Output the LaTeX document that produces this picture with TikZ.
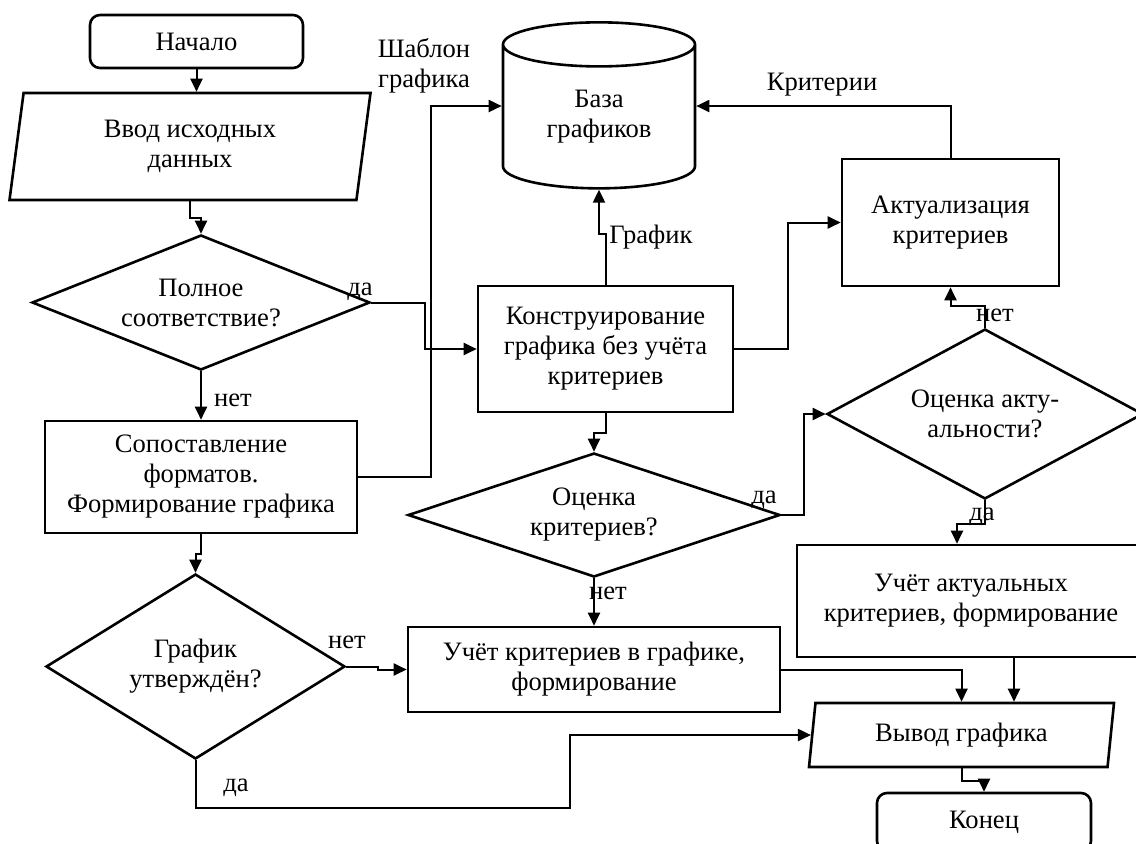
\documentclass[tikz,border=0pt]{standalone}
\usepackage{fontspec}
\setmainfont{Liberation Serif}
\usetikzlibrary{positioning, shapes.geometric, arrows.meta}

\begin{document}
\begin{tikzpicture}[x=0.5pt, y=-0.5pt,
    font=\fontsize{13.3}{15}\selectfont,
    shp/.style={draw, line width=1.3pt, align=center, inner sep=0pt},
    proc/.style={shp, rectangle},
    term/.style={shp, rectangle, rounded corners=5pt},
    io/.style={shp, trapezium, trapezium left angle=75, trapezium right angle=105,
               trapezium stretches body},
    dec/.style={shp, diamond},
    arr/.style={-{Triangle[length=6.5pt, width=6pt]}, line width=1pt},
    lbl/.style={inner sep=0pt}]
  \useasboundingbox (0,0) rectangle (1136,843);
  % blocks (px centres)
  \node[term, minimum width=106.5pt, minimum height=26.5pt] (start) at (196.5,41.5) {Начало};
  \node[io, minimum width=180.5pt, minimum height=53.5pt] (input) at (190,146.5) {Ввод исходных\\данных};
  \node[dec, aspect=2.5, minimum width=169pt, minimum height=67.5pt] (full) at (201,302.5) {Полное\\соответствие?};
  \node[proc, minimum width=156pt, minimum height=56pt] (match) at (201,477) {Сопоставление\\форматов.\\Формирование графика};
  \node[dec, aspect=1.6, minimum width=149.5pt, minimum height=92.5pt] (approved) at (195.5,666.5) {График\\утверждён?};
  \node[shp, cylinder, shape border rotate=90, aspect=0.42,
        minimum width=96pt, minimum height=83pt] (base) at (599,117) {База\\графиков};
  \node[proc, minimum width=127.5pt, minimum height=63pt] (build) at (605.5,349) {Конструирование\\графика без учёта\\критериев};
  \node[dec, aspect=3, minimum width=186pt, minimum height=62pt] (crit) at (594,515) {Оценка\\критериев?};
  \node[proc, minimum width=108.5pt, minimum height=63.5pt] (actual) at (950.5,222.5) {Актуализация\\критериев};
  \node[dec, aspect=1.86, minimum width=158pt, minimum height=85pt] (rel) at (985,414) {Оценка акту-\\альности?};
  \node[proc, minimum width=186pt, minimum height=42.5pt] (usecrit) at (594,669.5) {Учёт критериев в графике,\\формирование};
  \node[proc, minimum width=174pt, minimum height=56pt] (userel) at (971,601) {Учёт актуальных\\критериев, формирование};
  \node[io, minimum width=152.5pt, minimum height=32pt] (out) at (961.5,735) {Вывод графика};
  \node[term, minimum width=107pt, minimum height=29pt] (stop) at (984,822) {Конец};
  % connectors
  \draw[arr] (start.south) -- (start.south |- input.north);
  \draw[arr] (input.south) -- ++(0,17) -| (full.north);
  \draw[arr] (full.south) -- (match.north);
  \draw[arr] (full.east) -- ++(54,0) |- (build.west);
  \draw[arr] (match.east) -- ++(73,0) |- ([yshift=5.5pt]base.west);
  \draw[arr] (match.south) -- ++(0,20) -| (approved.north);
  \draw[arr] (approved.east) -- ++(32,0) |- (usecrit.west);
  \draw[arr] (approved.south) -- ++(0,48) -| ([xshift=-120.5pt]out.west) -- (out.west);
  \draw[arr] (build.north) -- ++(0,-51) -| (base.south);
  \draw[arr] (build.east) -- ++(54,0) |- (actual.west);
  \draw[arr] (build.south) -- ++(0,20) -| (crit.north);
  \draw[arr] (actual.north) |- ([yshift=5.5pt]base.east);
  \draw[arr] (crit.east) -- ++(23,0) |- (rel.west);
  \draw[arr] (crit.south) -- (usecrit.north);
  \draw[arr] (rel.north) -- ++(0,-22) -| (actual.south);
  \draw[arr] (rel.south) -- ++(0,24) -| ([xshift=-7pt]userel.north);
  \draw[arr] (usecrit.east) -| (out.north);
  \coordinate (relout) at ([xshift=21.5pt]userel.south);
  \draw[arr] (relout) -- (relout |- out.north);
  \draw[arr] (out.south) -- ++(0,13) -| (stop.north);
  % labels
  \node[lbl, align=center] at (424,66) {Шаблон\\графика};
  \node[lbl] at (822,85) {Критерии};
  \node[lbl, anchor=west] at (609,237) {График};
  \node[lbl] at (360,292) {да};
  \node[lbl] at (233,400) {нет};
  \node[lbl] at (764,500) {да};
  \node[lbl] at (608,593) {нет};
  \node[lbl] at (995,315) {нет};
  \node[lbl] at (982,517) {да};
  \node[lbl] at (347,642) {нет};
  \node[lbl] at (236,788) {да};
\end{tikzpicture}
\end{document}
